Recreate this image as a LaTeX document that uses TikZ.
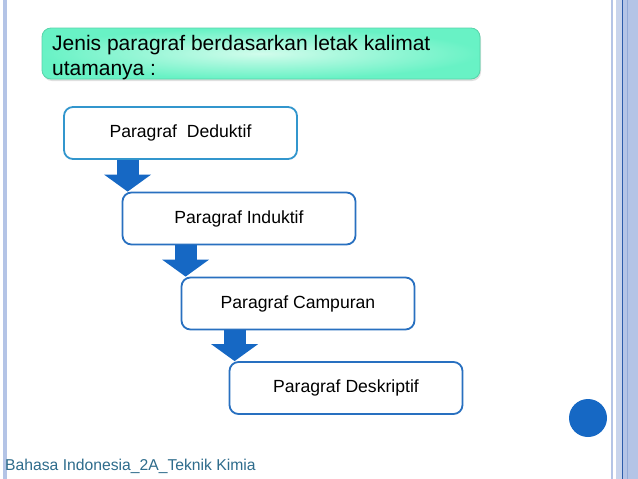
\documentclass[tikz,border=0pt]{standalone}
\usepackage{fontspec}
\setmainfont{Liberation Sans}
\usetikzlibrary{arrows.meta,shadows}
\definecolor{boxblue}{RGB}{50,150,205}
\definecolor{boxdark}{RGB}{40,112,192}
\definecolor{arrowblue}{RGB}{22,104,196}
\definecolor{mint}{RGB}{104,242,197}
\definecolor{mintlight}{RGB}{210,252,236}
\definecolor{mintline}{RGB}{88,212,170}
\definecolor{barblue}{RGB}{180,196,230}
\definecolor{barlight}{RGB}{200,212,236}
\definecolor{bardark}{RGB}{44,92,170}
\definecolor{footblue}{RGB}{46,108,140}

\begin{document}
\begin{tikzpicture}
[x=1pt,y=-1pt,
 stepbox/.style={draw=boxdark,line width=1.8pt,rounded corners=9pt,fill=white,
   minimum width=233pt,minimum height=52pt,font=\fontsize{17.6}{21}\selectfont},
 flow/.style={draw=arrowblue,line width=22pt,
   -{Triangle[width=47pt,length=17pt,line width=0pt]}}]
\useasboundingbox (0,0) rectangle (638,479);
\fill[white] (0,0) rectangle (638,479);

\fill[barblue] (3.3,0) rectangle (6.7,479);
\fill[barblue] (610.5,0) rectangle (612.8,479);
\fill[barlight] (616,0) rectangle (622,479);
\fill[barblue] (622,0) rectangle (638,479);
\draw[bardark,line width=1.3pt] (622.3,0) -- (622.3,479);
\draw[barblue!75!bardark,line width=0.8pt] (627.3,0) -- (627.3,479);

\node[draw=mintline,line width=0.8pt,rounded corners=9pt,inner color=mintlight,outer color=mint,
  drop shadow={opacity=0.25,shadow xshift=1pt,shadow yshift=-2pt},
  minimum width=438pt,minimum height=51pt] (title) at (261,53.5) {};
\node[anchor=north west,inner sep=0pt,align=left,font=\fontsize{21}{25}\selectfont]
  (titletext) at (52,35.5) {Jenis paragraf berdasarkan letak kalimat\\utamanya :};

\node[stepbox,draw=boxblue] (b1) at (180.5,133) {Paragraf\ \ Deduktif};
\node[stepbox] (b2) at (239,218.5) {Paragraf Induktif};
\node[stepbox] (b3) at (298,303.5) {Paragraf Campuran};
\node[stepbox] (b4) at (346,388) {Paragraf Deskriptif};

\foreach \a/\b/\d in {b1/b2/64.5,b2/b3/64,b3/b4/54}{
\draw[flow] ([xshift=\d pt]\a.south west) -- ([xshift=\d pt]\a.south west |- \b.north);
}

\fill[arrowblue] (588,418) circle (19pt);

\node[anchor=west,inner sep=0pt,text=footblue,font=\fontsize{15.7}{18}\selectfont] (foot) at (5,466)
  {Bahasa Indonesia\_2A\_Teknik Kimia};
\end{tikzpicture}
\end{document}
